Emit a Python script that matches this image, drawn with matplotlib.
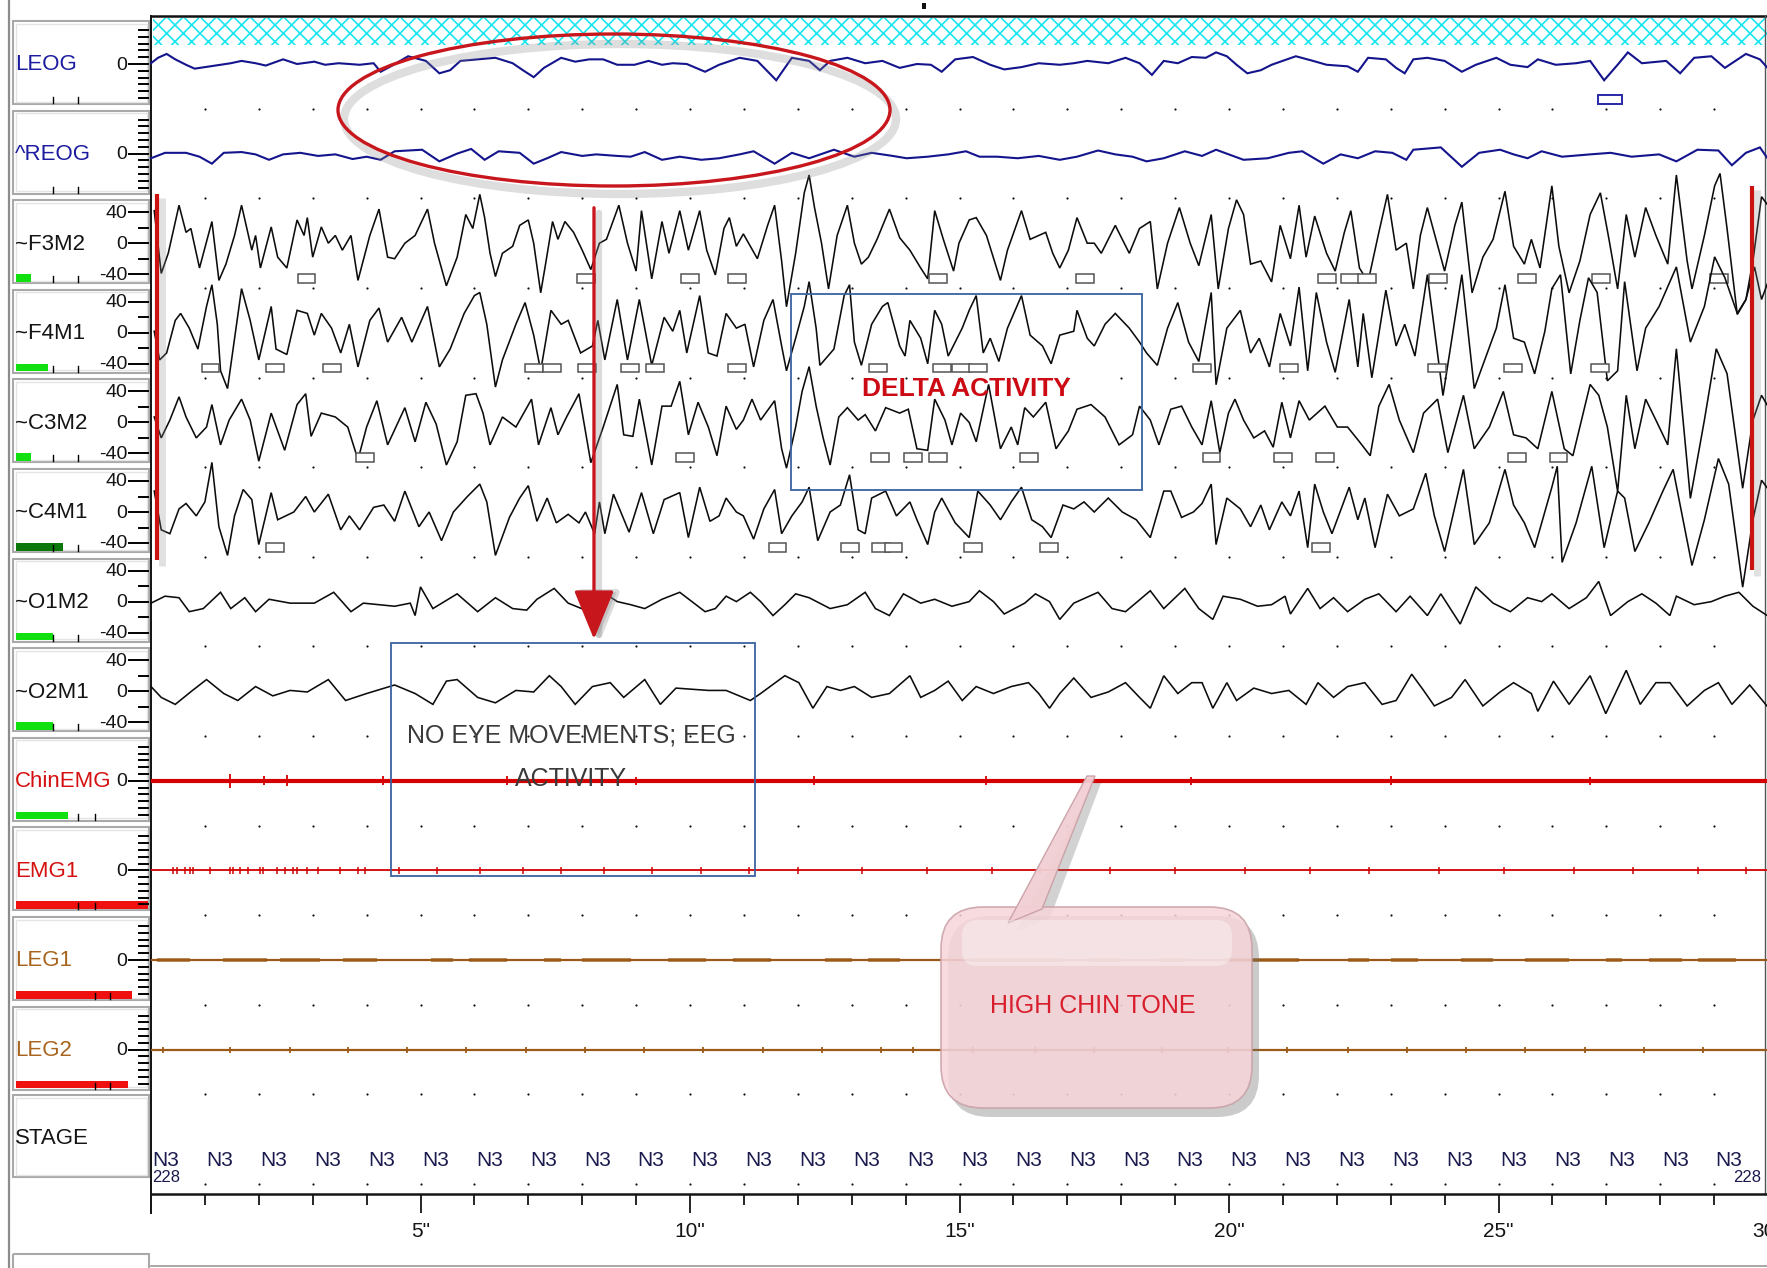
import matplotlib
matplotlib.use("Agg")
import matplotlib.pyplot as plt
from matplotlib import font_manager as fm
from matplotlib.patches import Rectangle, Ellipse, FancyBboxPatch, Polygon, FancyArrowPatch

# ---------------------------------------------------------------------------
# Signals: (time in s, amplitude in uV) turning points of each derivation
# ---------------------------------------------------------------------------
LEOG = [(0.00, 1), (0.13, 8), (0.29, 13), (0.45, 6), (0.65, -1), (0.81, -6), (1.10, -3), (1.48, 1),
        (1.68, 4), (1.94, 1), (2.13, -2), (2.45, 6), (2.71, 0), (3.03, 3), (3.23, -1), (3.48, 1),
        (3.87, -1), (4.13, 1), (4.26, -10), (4.45, -3), (4.77, 10), (5.10, 4), (5.35, -12), (5.55, -8),
        (5.74, 4), (6.06, 6), (6.39, 8), (6.71, 1), (6.90, -8), (7.10, -17), (7.29, -5), (7.61, 8),
        (7.87, 3), (8.13, 6), (8.39, 6), (8.65, -1), (8.97, -1), (9.23, 4), (9.48, -1), (9.68, 1),
        (9.94, 0), (10.28, -10), (10.54, -1), (10.92, 8), (11.25, 4), (11.60, -21), (11.89, 8),
        (12.21, 4), (12.41, -8), (12.60, 4), (12.92, 8), (13.25, 1), (13.57, 4), (13.89, -5),
        (14.21, 0), (14.47, -1), (14.67, -10), (14.92, 6), (15.25, 9), (15.57, -1), (15.83, -7),
        (16.15, -4), (16.47, 1), (16.86, -1), (17.12, 1), (17.37, 4), (17.76, 1), (18.08, 8),
        (18.34, 1), (18.57, -14), (18.79, 4), (19.05, 1), (19.31, 9), (19.57, 8), (19.76, 15),
        (19.96, 10), (20.14, -1), (20.34, -12), (20.59, -8), (20.79, -1), (21.24, 10), (21.56, 4),
        (21.81, -1), (22.20, -3), (22.39, -10), (22.58, 8), (22.91, 6), (23.10, -5), (23.26, -12),
        (23.42, 6), (23.68, 8), (24.00, 4), (24.32, -10), (24.58, -1), (24.96, 8), (25.22, -1),
        (25.54, -4), (25.73, 6), (26.06, -1), (26.44, 1), (26.70, 4), (26.96, -21), (27.21, -1),
        (27.40, 15), (27.66, 1), (28.11, 4), (28.37, -12), (28.63, 8), (28.95, 10), (29.20, -5),
        (29.59, 13), (29.85, 6), (30.03, -8)]

REOG = [(0.00, -6), (0.26, 1), (0.65, 1), (0.90, -4), (1.13, -13), (1.35, 1), (1.68, 2), (1.94, -1),
        (2.19, -8), (2.45, -1), (2.77, 1), (3.10, -3), (3.42, -1), (3.74, -7), (4.00, -4), (4.26, -8),
        (4.52, 3), (5.03, 5), (5.35, -10), (5.68, 0), (5.94, 6), (6.19, -8), (6.45, 3), (6.84, 1),
        (7.10, -13), (7.35, -6), (7.61, 2), (8.00, -3), (8.26, -1), (8.65, -3), (8.90, -4), (9.16, 2),
        (9.48, -8), (9.81, -4), (10.21, -8), (10.54, -6), (10.92, -1), (11.18, 3), (11.57, -13),
        (11.89, 1), (12.21, -6), (12.67, 5), (13.05, -4), (13.37, 1), (13.76, -3), (14.02, -6),
        (14.41, -4), (14.79, -1), (15.12, 3), (15.37, -4), (15.70, -4), (16.08, -6), (16.47, -3),
        (16.86, -8), (17.18, -4), (17.57, 4), (17.89, -1), (18.21, -4), (18.47, -10), (18.79, -6),
        (19.18, 3), (19.50, -3), (19.76, 5), (20.27, -8), (20.72, -6), (21.11, 1), (21.36, 3),
        (21.75, -13), (22.07, -1), (22.39, -6), (22.71, 3), (23.03, 1), (23.29, -8), (23.42, 5),
        (23.93, 8), (24.32, -17), (24.64, 1), (25.03, 5), (25.28, -1), (25.54, -6), (25.80, 3),
        (26.18, -4), (26.70, -1), (27.08, 1), (27.47, -4), (27.98, -1), (28.30, -10), (28.69, 5),
        (29.08, 4), (29.33, -15), (29.59, 1), (29.85, 8), (30.03, -10)]

F3M2 = [(0.06, 42), (0.19, -39), (0.32, -13), (0.52, 49), (0.65, 14), (0.74, 19), (0.90, -32),
        (1.13, 28), (1.26, -48), (1.39, -27), (1.55, 10), (1.68, 49), (1.87, -9), (1.94, 10),
        (2.03, -32), (2.23, 21), (2.35, -18), (2.52, -32), (2.71, 30), (2.84, 10), (2.90, 33),
        (3.00, -18), (3.16, 21), (3.29, 0), (3.42, 10), (3.55, -9), (3.71, 10), (3.84, -48),
        (4.06, 10), (4.23, 44), (4.39, -18), (4.52, -20), (4.71, 0), (4.90, 10), (5.13, 44),
        (5.26, 0), (5.48, -55), (5.68, -18), (5.84, 37), (5.97, 19), (6.10, 63), (6.19, 33),
        (6.29, -13), (6.39, -43), (6.52, -13), (6.71, -4), (6.84, 23), (7.00, 30), (7.10, 0),
        (7.23, -64), (7.32, -27), (7.45, 28), (7.55, 5), (7.68, 28), (7.84, 14), (8.00, -9),
        (8.16, -34), (8.32, 0), (8.45, 5), (8.68, 49), (8.84, 0), (9.00, -36), (9.10, 42),
        (9.29, -46), (9.48, 28), (9.61, -13), (9.81, 42), (9.97, -9),
        (10.18, 42), (10.31, -9), (10.47, -41), (10.63, 19), (10.73, 33), (10.86, -4), (10.99, 12),
        (11.25, -20), (11.44, 23), (11.57, 49), (11.70, -23), (11.79, -82), (11.96, -13),
        (12.12, 65), (12.21, 88), (12.31, 46), (12.44, 0), (12.57, -59), (12.73, 10), (12.92, 49),
        (13.05, 0), (13.18, -27), (13.31, -18), (13.47, 5), (13.70, 44), (13.89, 7), (14.08, -9),
        (14.28, -32), (14.41, -46), (14.54, 42), (14.70, 5), (14.89, -36), (14.99, 0), (15.18, 30),
        (15.31, 33), (15.50, 10), (15.76, -48), (15.89, -9), (16.15, 42), (16.31, 5), (16.47, 10),
        (16.60, 14), (16.73, -13), (16.86, -32), (17.02, -9), (17.18, 33), (17.37, 0), (17.50, 0),
        (17.63, -13), (17.89, 23), (18.15, -13), (18.34, 19), (18.54, 28), (18.67, -59), (18.86, 0),
        (19.08, 46), (19.28, 0), (19.44, -29), (19.67, 37), (19.80, -59), (19.99, 19),
        (20.14, 56), (20.27, 37), (20.40, -27), (20.59, -23), (20.79, -50), (20.95, 23),
        (21.14, -20), (21.30, 49), (21.43, -18), (21.59, 35), (21.81, -13), (21.97, -36),
        (22.14, 14), (22.26, 42), (22.42, -32), (22.58, -50), (22.78, 14), (22.94, 63), (23.10, -9),
        (23.29, 0), (23.42, -59), (23.55, 10), (23.68, 46), (23.84, 5), (24.00, -36), (24.19, 23),
        (24.32, 53), (24.51, -64), (24.71, -18), (24.90, 5), (25.12, 67), (25.28, -4), (25.48, -27),
        (25.61, 5), (25.77, -32), (25.99, 74), (26.12, -4), (26.31, -64), (26.51, -23), (26.70, 37),
        (26.89, 65), (27.05, 5), (27.21, -59), (27.37, 37), (27.53, -18), (27.73, 46), (27.92, 10),
        (28.14, -27), (28.30, 88), (28.50, -23), (28.59, -59), (28.82, 10), (29.01, 74),
        (29.11, 90), (29.24, 19), (29.43, -92), (29.59, -73), (29.72, -23), (29.88, 60), (30.03, 46)]

F4M1 = [(0.06, 2), (0.16, -35), (0.29, -26), (0.45, 16), (0.55, 25), (0.71, 6), (0.87, -21),
        (1.03, 34), (1.13, 62), (1.23, 11), (1.29, -49), (1.42, -72), (1.55, -7), (1.68, 57),
        (1.84, 16), (2.00, -35), (2.23, 34), (2.32, -21), (2.52, -28), (2.71, 29), (2.90, 25),
        (3.03, -3), (3.16, 25), (3.35, 6), (3.52, -26), (3.68, 11), (3.84, -44), (4.06, 16),
        (4.23, 32), (4.39, -12), (4.65, 20), (4.84, -12), (5.13, 34), (5.35, -44), (5.55, -21),
        (5.81, 25), (6.00, 48), (6.10, 52), (6.23, 11), (6.39, -70), (6.52, -35), (6.77, 11),
        (6.94, 39), (7.10, -3), (7.23, -49), (7.42, 29), (7.61, 11), (7.74, 16), (7.97, -26),
        (8.19, -17), (8.29, 16), (8.42, -35), (8.65, 43), (8.84, -35), (9.06, 43), (9.29, -42),
        (9.52, 20), (9.68, 2), (9.81, 29), (9.94, -26),
        (10.18, 48), (10.34, -26), (10.50, -30), (10.67, 25), (10.86, 6), (11.02, 11), (11.18, -44),
        (11.37, 16), (11.54, 43), (11.70, -17), (11.79, -49), (11.96, -7), (12.12, 34), (12.21, 66),
        (12.34, 6), (12.41, -42), (12.67, -21), (12.86, 48), (12.96, 62), (13.05, -12), (13.18, -42),
        (13.37, 11), (13.57, 34), (13.67, 39), (13.89, -17), (13.99, -30), (14.08, 16), (14.28, -7),
        (14.41, -40), (14.54, 29), (14.67, 11), (14.79, -30), (15.05, 6), (15.18, 29), (15.31, 48),
        (15.44, -26), (15.57, -7), (15.73, -37), (15.89, 6), (16.15, 48), (16.31, -3), (16.54, -17),
        (16.70, -40), (16.86, -3), (17.12, 2), (17.18, 29), (17.37, -7), (17.50, -17), (17.70, 11),
        (17.89, 25), (18.15, 6), (18.34, -12), (18.47, -26), (18.67, -42), (18.86, 6), (19.05, 39),
        (19.25, -12), (19.44, -37), (19.67, 52), (19.76, -67), (19.96, 6),
        (20.21, 29), (20.40, -26), (20.56, -7), (20.75, -44), (20.95, 25), (21.14, -17), (21.30, 59),
        (21.46, -49), (21.62, 52), (21.81, -12), (21.97, -51), (22.23, 43), (22.39, -44), (22.49, 25),
        (22.65, -58), (22.91, 55), (23.10, -17), (23.26, 11), (23.45, -30), (23.68, 75), (23.97, -81),
        (24.32, 75), (24.55, -72), (24.77, -30), (24.96, 6), (25.12, 62), (25.28, -7), (25.48, -12),
        (25.67, -53), (25.86, 2), (25.99, 57), (26.15, 75), (26.34, -53), (26.51, 16), (26.67, 71),
        (26.83, 52), (27.02, -62), (27.21, -49), (27.34, 66), (27.57, -49), (27.73, 6), (27.98, 34),
        (28.30, 85), (28.56, -12), (28.82, 34), (29.01, 98), (29.20, 71), (29.43, 25), (29.59, 43),
        (29.75, 85), (29.88, 43), (30.03, 71)]

C3M2 = [(0.06, 7), (0.19, -20), (0.35, 3), (0.52, 33), (0.65, 7), (0.84, -20), (1.03, -6),
        (1.13, 23), (1.29, -29), (1.45, 3), (1.68, 30), (1.84, 3), (2.00, -50), (2.23, 12),
        (2.48, -36), (2.71, 23), (2.87, 37), (2.97, -18), (3.16, 12), (3.42, 7), (3.65, -6),
        (3.84, -48), (4.00, -6), (4.19, 28), (4.39, -29), (4.71, 19), (4.90, -25), (5.10, 26),
        (5.29, -2), (5.48, -55), (5.68, -25), (5.84, 35), (6.03, 37), (6.16, 12), (6.29, -29),
        (6.52, 7), (6.77, -6), (7.06, 30), (7.19, -29), (7.42, 19), (7.55, -16), (7.71, 7),
        (7.94, 37), (8.16, -52), (8.39, -6), (8.65, 49), (8.77, -16), (8.94, -18), (9.06, 30),
        (9.29, -55), (9.48, 21), (9.65, 21), (9.81, 53), (9.97, -16),
        (10.15, 26), (10.34, -6), (10.50, -43), (10.67, 21), (10.86, -9), (10.99, 3), (11.15, 30),
        (11.31, 3), (11.57, 28), (11.70, -34), (11.79, -59), (11.96, -6), (12.08, 40), (12.21, 72),
        (12.34, 21), (12.47, -20), (12.60, -55), (12.76, 7), (12.92, 19), (13.12, 3), (13.25, 10),
        (13.44, -11), (13.63, 19), (13.89, 12), (14.05, 17), (14.21, -34), (14.41, -36), (14.54, 30),
        (14.73, 3), (14.86, -29), (15.02, 12), (15.18, 0), (15.31, -25), (15.54, 49), (15.76, -34),
        (15.96, -6), (16.08, -29), (16.21, 19), (16.37, 7), (16.60, 26), (16.79, -34), (17.02, -11),
        (17.18, 17), (17.44, 23), (17.70, 7), (17.96, -29), (18.21, -16), (18.34, 21), (18.54, 3),
        (18.70, -29), (18.92, 17), (19.12, 21), (19.31, -6), (19.50, -29), (19.67, 28), (19.83, -39),
        (19.99, 12),
        (20.11, 30), (20.27, 3), (20.46, -20), (20.66, -11), (20.82, -32), (20.98, 26), (21.14, -20),
        (21.30, 28), (21.49, 3), (21.78, 21), (22.01, -6), (22.20, -6), (22.42, -25), (22.62, -43),
        (22.78, 21), (22.97, 49), (23.16, 3), (23.42, -39), (23.61, 12), (23.87, 30), (24.06, -39),
        (24.35, 35), (24.55, -34), (24.83, -6), (25.09, 40), (25.28, -16), (25.51, -20), (25.73, -34),
        (25.99, 40), (26.22, -34), (26.38, -43), (26.70, 49), (26.86, 35), (27.02, -6), (27.21, -89),
        (27.37, 35), (27.53, -34), (27.73, 30), (27.92, 3), (28.14, -29), (28.30, 95), (28.56, -98),
        (28.82, 3), (29.04, 95), (29.24, 63), (29.53, -85), (29.72, 3), (29.88, 35), (30.03, 17)]

C4M1 = [(0.06, 27), (0.19, -23), (0.35, -28), (0.52, 4), (0.65, 11), (0.84, -5), (1.00, 13),
        (1.13, 64), (1.26, -19), (1.42, -56), (1.55, -5), (1.71, 29), (1.87, 16), (2.00, -42),
        (2.23, 25), (2.35, -10), (2.65, 0), (2.87, 20), (3.03, 0), (3.29, 23), (3.52, -23),
        (3.68, -5), (3.87, -23), (4.13, 6), (4.32, 9), (4.52, -12), (4.71, 27), (4.97, -19),
        (5.16, 0), (5.39, -37), (5.61, 0), (5.87, 20), (6.10, 36), (6.23, 13), (6.39, -56),
        (6.65, -7), (6.84, 18), (7.00, 34), (7.16, -12), (7.35, 18), (7.52, -14), (7.74, -3),
        (7.94, -14), (8.06, 0), (8.23, -28), (8.32, 13), (8.42, -28), (8.58, 23), (8.87, -26),
        (9.10, 25), (9.32, -28), (9.52, 16), (9.81, 25), (9.97, -33),
        (10.18, 32), (10.37, -12), (10.54, -5), (10.67, 18), (10.86, 0), (10.99, -5), (11.18, -35),
        (11.37, 4), (11.57, 29), (11.70, -28), (11.89, -5), (12.08, 13), (12.21, 32), (12.37, -37),
        (12.60, 0), (12.79, 9), (12.96, 48), (13.12, -23), (13.25, -28), (13.37, 18), (13.63, 27),
        (13.83, -5), (14.08, 13), (14.21, -10), (14.41, -42), (14.54, 0), (14.67, 18), (14.92, -14),
        (15.18, -33), (15.34, 27), (15.57, 9), (15.76, -10), (15.96, 13), (16.15, 32), (16.34, -10),
        (16.54, -19), (16.70, -33), (16.92, 9), (17.12, 4), (17.31, 13), (17.50, 0), (17.76, 18),
        (18.02, 0), (18.28, -10), (18.54, -33), (18.79, 27), (18.92, 27), (19.12, -7), (19.34, 0),
        (19.50, 11), (19.67, 36), (19.76, -42), (19.96, 18),
        (20.21, 4), (20.40, -19), (20.59, 9), (20.75, -23), (20.98, 13), (21.14, -5), (21.30, 27),
        (21.46, -46), (21.59, 36), (21.75, 0), (21.91, -28), (22.23, 32), (22.39, -10), (22.52, 18),
        (22.71, -46), (22.94, 23), (23.16, -5), (23.42, 4), (23.65, 50), (23.81, -5), (24.00, -51),
        (24.35, 55), (24.55, -42), (24.83, -14), (25.12, 55), (25.28, 9), (25.48, -14), (25.67, -46),
        (25.99, 32), (26.09, 59), (26.18, -65), (26.44, -14), (26.73, 59), (26.96, -46), (27.21, 27),
        (27.34, 18), (27.53, -51), (27.79, -14), (28.05, 27), (28.24, 55), (28.59, -69), (28.82, -10),
        (29.08, 69), (29.27, 36), (29.53, -97), (29.72, -10), (29.88, 41), (30.03, 27)]

O1M2 = [(0.00, -2), (0.26, 7), (0.52, 5), (0.71, -13), (0.97, -9), (1.29, 12), (1.48, -9), (1.74, 5),
        (1.94, -13), (2.19, 3), (2.58, -2), (3.03, -2), (3.39, 12), (3.71, -13), (3.94, -2),
        (4.52, -6), (4.81, -2), (4.90, -18), (5.00, 19), (5.23, -9), (5.68, 10), (6.06, -13),
        (6.39, 5), (6.71, -9), (6.97, -11), (7.16, 3), (7.48, 17), (7.74, -2), (8.06, -11),
        (8.39, 12), (8.65, 0), (8.90, -4), (9.16, -9), (9.48, 3), (9.81, 12),
        (10.28, -13), (10.47, -9), (10.67, 7), (10.86, 0), (11.12, 12), (11.31, 0), (11.54, -18),
        (11.76, -4), (11.96, 10), (12.21, 5), (12.60, -9), (12.92, -4), (13.25, 12), (13.44, -9),
        (13.70, -18), (13.96, 10), (14.28, -2), (14.54, 3), (14.86, -6), (15.18, 0), (15.37, 14),
        (15.63, 0), (15.83, -16), (16.21, -2), (16.41, 10), (16.67, 0), (16.86, -23), (17.12, -2),
        (17.57, 12), (17.83, -9), (18.08, -13), (18.54, 14), (18.79, -9), (19.18, 17), (19.44, -9),
        (19.70, -23), (19.89, 7),
        (20.21, 3), (20.53, -6), (20.79, -4), (21.04, 7), (21.14, -16), (21.46, 17), (21.69, -9),
        (21.94, 5), (22.20, -13), (22.52, 3), (22.78, 10), (23.10, -13), (23.36, 7), (23.68, -18),
        (23.93, 10), (24.29, -29), (24.58, 19), (24.90, -2), (25.22, -13), (25.54, 5), (25.80, 0),
        (25.99, 10), (26.31, -9), (26.63, 5), (26.86, 26), (27.08, -18), (27.40, 0), (27.66, 10),
        (27.92, -2), (28.18, -18), (28.30, 7), (28.63, -4), (28.95, 0), (29.20, 7), (29.46, 12),
        (29.72, -6), (30.03, -20)]

O2M1 = [(0.00, 6), (0.19, -8), (0.45, -17), (0.77, 1), (1.03, 15), (1.35, -3), (1.61, -12),
        (1.94, 6), (2.26, -6), (2.58, 1), (2.90, -1), (3.29, 15), (3.61, -12), (4.00, -3),
        (4.52, 8), (4.90, -3), (5.23, -17), (5.48, 13), (5.68, 15), (6.06, -8), (6.39, -15),
        (6.77, 1), (7.10, -1), (7.39, 20), (7.61, 6), (7.87, -17), (8.19, 6), (8.52, 11),
        (8.77, -8), (9.16, 15), (9.45, -17), (9.74, 4),
        (10.34, 1), (10.67, 1), (11.12, -12), (11.31, -3), (11.76, 20), (12.02, 11), (12.28, -22),
        (12.54, 6), (12.79, 1), (13.05, 6), (13.37, -8), (13.70, -3), (14.08, 20), (14.28, -8),
        (14.54, 1), (14.79, 13), (15.05, -12), (15.31, 6), (15.63, -3), (15.96, 6), (16.28, 11),
        (16.47, -3), (16.67, -22), (16.86, -3), (17.12, 17), (17.44, -8), (17.76, -1), (18.08, 11),
        (18.34, -8), (18.54, -22), (18.79, 20), (19.05, -3), (19.31, 11), (19.50, 11), (19.70, -22),
        (19.96, 11),
        (20.14, -12), (20.46, 4), (20.79, -3), (21.11, 1), (21.43, -17), (21.65, 11), (21.94, -8),
        (22.20, 6), (22.52, 11), (22.84, -17), (23.10, -12), (23.39, 22), (23.61, 1), (23.81, -19),
        (24.13, -8), (24.38, 15), (24.71, -19), (25.03, -1), (25.28, 11), (25.61, -3), (25.73, -26),
        (26.02, 13), (26.31, -17), (26.70, 20), (26.99, -29), (27.37, 27), (27.63, -17), (27.92, 11),
        (28.18, 11), (28.50, -19), (28.82, 1), (29.08, 11), (29.33, -17), (29.66, 8), (29.98, -19)]

# EMG / leg channels: flat baseline with short deflections (time s, amplitude uV)
CHIN_EMG_SPIKES = [(1.47, 9), (2.10, 6), (2.52, 7), (4.30, 6), (6.60, 6), (9.00, 5), (12.30, 6),
                   (15.50, 6), (19.30, 5), (23.00, 6), (26.70, 5)]
EMG1_SPIKES = [(0.41, 5), (0.48, 4), (0.63, 5), (0.72, 4), (0.78, 5), (1.10, 4), (1.47, 5),
               (1.52, 4), (1.65, 5), (1.80, 4), (2.02, 5), (2.08, 4), (2.34, 5), (2.49, 4),
               (2.63, 5), (2.71, 4), (2.89, 4), (3.10, 5), (3.51, 4), (3.84, 4), (3.97, 5),
               (4.60, 4), (5.30, 4), (6.10, 5), (6.90, 4), (7.60, 4), (8.40, 5), (9.30, 4),
               (10.20, 4), (11.10, 5), (12.00, 4), (13.20, 4), (14.40, 4), (15.60, 5), (16.50, 4),
               (17.80, 4), (19.00, 4), (20.30, 5), (21.50, 4), (22.60, 4), (23.90, 5), (25.10, 4),
               (26.40, 4), (27.50, 5), (28.70, 4), (29.60, 4)]
LEG1_BURSTS = [(0.11, 0.72), (1.34, 2.15), (2.39, 3.14), (3.56, 4.19), (5.20, 5.60), (5.90, 6.60),
               (7.30, 7.60), (8.00, 8.90), (9.60, 10.30), (10.80, 11.50), (12.50, 13.00),
               (13.30, 13.90), (15.20, 16.90), (17.40, 18.00), (18.70, 19.20), (19.90, 21.30),
               (22.20, 22.60), (23.00, 23.50), (24.30, 24.90), (25.50, 26.30), (27.00, 27.30),
               (27.80, 28.40), (28.70, 29.40)]
LEG2_BLIPS = [0.22, 1.47, 2.58, 3.65, 4.75, 5.85, 6.95, 8.05, 9.15, 10.25, 11.35, 12.45, 13.55,
              14.14, 15.25, 16.40, 17.50, 18.76, 19.98, 21.08, 22.20, 23.30, 24.40, 25.50, 26.60,
              27.70, 28.80]

# scoring marks under the EEG traces (channel, start time s)
EVENT_MARKS = {
    "~F3M2": [2.72, 7.90, 9.83, 10.71, 14.43, 17.17, 21.66, 22.08, 22.40, 23.71, 25.36, 26.74, 28.92],
    "~F4M1": [0.94, 2.13, 3.20, 6.94, 7.28, 7.92, 8.72, 9.18, 10.71, 13.32, 14.51, 14.87, 15.18,
              19.34, 20.95, 23.69, 25.11, 26.72],
    "~C3M2": [3.81, 9.74, 13.36, 13.97, 14.43, 16.12, 19.51, 20.83, 21.62, 25.18, 25.95],
    "~C4M1": [2.13, 11.46, 12.80, 13.38, 13.61, 15.08, 16.50, 21.54],
}

CHANNELS = ["LEOG", "^REOG", "~F3M2", "~F4M1", "~C3M2", "~C4M1", "~O1M2", "~O2M1",
            "ChinEMG", "EMG1", "LEG1", "LEG2"]
SIGNALS = {"LEOG": LEOG, "^REOG": REOG, "~F3M2": F3M2, "~F4M1": F4M1, "~C3M2": C3M2,
           "~C4M1": C4M1, "~O1M2": O1M2, "~O2M1": O2M1}
STAGES = ["N3"] * 30
EPOCH = "228"
TIME_TICKS = [5, 10, 15, 20, 25, 30]

# ---------------------------------------------------------------------------
# Geometry of the montage page (pixels)
# ---------------------------------------------------------------------------
W, H = 1767, 1268
X0 = 151.0          # x of t = 0
PX_S = 53.9         # pixels per second
T_MAX = 30.0
ROW0 = 64.0         # baseline of first channel
ROW = 89.6          # channel spacing
GAIN = 0.775        # pixels per uV

names = {f.name for f in fm.fontManager.ttflist}
NARROW = "Liberation Sans Narrow" if "Liberation Sans Narrow" in names else "Liberation Sans"
plt.rcParams["font.family"] = [NARROW, "DejaVu Sans"]
plt.rcParams["hatch.linewidth"] = 1.2

fig = plt.figure(figsize=(W / 100, H / 100), dpi=100, facecolor="white")


def pixel_axes(z):
    ax = fig.add_axes([0, 0, 1, 1])
    ax.set_xlim(0, W)
    ax.set_ylim(H, 0)
    ax.axis("off")
    ax.patch.set_alpha(0)
    ax.set_zorder(z)
    return ax


bg = pixel_axes(0)
fg = pixel_axes(6)

# time axes spanning full height (x in seconds, y in pixels)
ax_t = fig.add_axes([X0 / W, 0, T_MAX * PX_S / W, 1])
ax_t.set_xlim(0, T_MAX)
ax_t.set_ylim(H, 0)
ax_t.axis("off")
ax_t.patch.set_alpha(0)
ax_t.set_zorder(1)

NAME_COL = {"LEOG": "#1c1ca0", "^REOG": "#1c1ca0", "ChinEMG": "#d41010", "EMG1": "#d41010",
            "LEG1": "#a8641e", "LEG2": "#a8641e"}
BAR = {"~F3M2": (15, "#10e010"), "~F4M1": (32, "#10e010"), "~C3M2": (15, "#10e010"),
       "~C4M1": (47, "#0a780a"), "~O1M2": (37, "#10e010"), "~O2M1": (37, "#10e010"),
       "ChinEMG": (52, "#10e010"), "EMG1": (132, "#f01010"), "LEG1": (116, "#f01010"),
       "LEG2": (112, "#f01010")}
EEG = {"~F3M2", "~F4M1", "~C3M2", "~C4M1", "~O1M2", "~O2M1"}

# ---------------- left label panel ----------------
bg.plot([9, 9], [0, H], color="#8c8c8c", lw=1.6)
for i, ch in enumerate(CHANNELS):
    zy = ROW0 + i * ROW
    bg.add_patch(Rectangle((13, zy - 43), 136, 83, fill=False, ec="#a9a9a9", lw=1.5))
    bg.add_patch(Rectangle((15.5, zy - 40.5), 131, 78, fill=False, ec="#e4e4e4", lw=1.0))
    bg.text(15, zy + 1, ch, ha="left", va="center", fontsize=16,
            color=NAME_COL.get(ch, "#141414"))
    bg.plot([129, 148], [zy, zy], color="k", lw=1.4)
    bg.text(127, zy + 1, "0", ha="right", va="center", fontsize=14, color="#141414")
    if ch in EEG:
        for s, lab in ((-1, "40"), (1, "-40")):
            bg.plot([129, 148], [zy + s * 31, zy + s * 31], color="k", lw=1.4)
            bg.text(127, zy + s * 31 + 1, lab, ha="right", va="center", fontsize=14, color="#141414")
            bg.plot([139, 148], [zy + s * 15.5] * 2, color="k", lw=1.4)
    else:
        for k in (-5, -4, -3, -2, -1, 1, 2, 3, 4, 5):
            bg.plot([139, 148], [zy + k * 6.8] * 2, color="k", lw=1.4)
    if ch in BAR:
        w, c = BAR[ch]
        bg.add_patch(Rectangle((16, zy + 31), w, 7.5, color=c, lw=0))
    ticks = (53, 78) if i < 8 else ((78, 95) if i < 10 else (95, 110))
    for tx in ticks:
        bg.plot([tx, tx], [zy + 33, zy + 39], color="k", lw=1.0)

bg.add_patch(Rectangle((13, 1095), 136, 82, fill=False, ec="#a9a9a9", lw=1.5))
bg.add_patch(Rectangle((15.5, 1097.5), 131, 77, fill=False, ec="#e4e4e4", lw=1.0))
bg.text(15, 1139, "STAGE", ha="left", va="center", fontsize=16, color="#141414")
bg.add_patch(Rectangle((13, 1254), 136, 16, fill=False, ec="#a9a9a9", lw=1.5))

# ---------------- trace frame ----------------
bg.plot([X0, W], [16, 16], color="#111111", lw=1.8)
bg.plot([X0, X0], [16, 1213], color="#111111", lw=1.4)
bg.plot([1765, 1765], [16, 1194], color="#555555", lw=1.0)
bg.plot([X0, W], [1266, 1266], color="#9a9a9a", lw=1.2)
bg.add_patch(Rectangle((922, 3), 4, 6, color="#111111", lw=0))
bg.add_patch(Rectangle((153, 18), W - 153, 27, fill=False, hatch="xx", ec="#19e6f0", lw=0))

# one-second grid dots between channels
sec = list(range(1, 30))
for r in range(13):
    yd = ROW0 + (r + 0.5) * ROW
    ax_t.scatter(sec, [yd] * len(sec), s=2.5, color="#111111", lw=0)

# sleep stage row
for t, st in enumerate(STAGES):
    ax_t.text(t + 0.03, 1160, st, ha="left", va="center", fontsize=15, color="#1a1a4e")
ax_t.text(0.03, 1177, EPOCH, ha="left", va="center", fontsize=12, color="#1a1a4e")
ax_t.text(29.35, 1177, EPOCH, ha="left", va="center", fontsize=12, color="#1a1a4e")

# ---------------- channel traces ----------------
chan_ax = {}
for i, ch in enumerate(CHANNELS):
    zy = ROW0 + i * ROW
    ax = fig.add_axes([X0 / W, (H - zy - ROW / 2) / H, T_MAX * PX_S / W, ROW / H])
    half = ROW / 2 / GAIN
    ax.set_xlim(0, T_MAX)
    ax.set_ylim(-half, half)
    ax.axis("off")
    ax.patch.set_alpha(0)
    ax.set_zorder(2)
    chan_ax[ch] = ax
    if ch in SIGNALS:
        t, v = zip(*SIGNALS[ch])
        col = "#14148c" if "EOG" in ch else "#0c0c0c"
        ax.plot(t, v, color=col, lw=1.5 if "EOG" in ch else 1.15, clip_on=False,
                solid_joinstyle="miter")

red_emg = "#d40000"
leg_col = "#9c5a18"
ax = chan_ax["ChinEMG"]
ax.plot([0, T_MAX], [0, 0], color=red_emg, lw=3.0, solid_capstyle="butt")
st, sa = zip(*CHIN_EMG_SPIKES)
ax.vlines(st, [-a for a in sa], sa, color=red_emg, lw=1.3)
ax = chan_ax["EMG1"]
ax.plot([0, T_MAX], [0, 0], color=red_emg, lw=1.3)
st, sa = zip(*EMG1_SPIKES)
ax.vlines(st, [-a for a in sa], sa, color=red_emg, lw=1.1)
ax = chan_ax["LEG1"]
ax.plot([0, T_MAX], [0, 0], color=leg_col, lw=1.6)
for s0, s1 in LEG1_BURSTS:
    ax.plot([s0, s1], [0, 0], color=leg_col, lw=2.6, solid_capstyle="butt", alpha=0.85)
ax = chan_ax["LEG2"]
ax.plot([0, T_MAX], [0, 0], color=leg_col, lw=1.6)
ax.vlines(LEG2_BLIPS, -4, 4, color=leg_col, lw=1.3)

for ch, marks in EVENT_MARKS.items():
    ax = chan_ax[ch]
    for t0 in marks:
        ax.add_patch(Rectangle((t0, -51), 0.33, 11, fc="white", ec="#555555", lw=1.1,
                               clip_on=False, zorder=3))
chan_ax["LEOG"].add_patch(Rectangle((26.85, -51), 0.45, 11, fc="white", ec="#2828a8", lw=1.4,
                                    clip_on=False, zorder=3))

# ---------------- time axis ----------------
ax_x = fig.add_axes([X0 / W, (H - 1194) / H, T_MAX * PX_S / W, 0.0001])
ax_x.set_zorder(3)
ax_x.patch.set_alpha(0)
ax_x.set_xlim(0, T_MAX)
for s in ("top", "left", "right"):
    ax_x.spines[s].set_visible(False)
ax_x.spines["bottom"].set_linewidth(1.8)
ax_x.spines["bottom"].set_color("#151515")
ax_x.set_yticks([])
ax_x.set_xticks(TIME_TICKS)
ax_x.set_xticklabels([f'{v}"' for v in TIME_TICKS], fontsize=15, color="#141414")
ax_x.set_xticks(range(1, 30), minor=True)
ax_x.tick_params(axis="x", which="major", length=14, width=1.3, pad=6, color="#151515")
ax_x.tick_params(axis="x", which="minor", length=8, width=1.3, color="#151515")

# ---------------- annotations ----------------
# ellipse around the eye channels
fg.add_patch(Ellipse((620, 119), 552, 150, fill=False, ec="#8a8a8a", lw=6, alpha=0.28))
fg.add_patch(Ellipse((614, 110), 552, 152, fill=False, ec="#c8161d", lw=2.4))

# arrow down to the occipital box
fg.add_patch(FancyArrowPatch((599, 210), (599, 646), arrowstyle="-|>,head_length=1.1,head_width=0.45",
                             mutation_scale=28, color="#8a8a8a", lw=4.5, alpha=0.3))
fg.add_patch(FancyArrowPatch((594, 205), (594, 642), arrowstyle="-|>,head_length=1.1,head_width=0.45",
                             mutation_scale=28, color="#c8161d", lw=2.4))

# red bars delimiting the frontal/central block
for xb, y0, y1 in ((157, 194, 560), (1752, 186, 570)):
    fg.plot([xb + 5, xb + 5], [y0 + 4, y1 + 6], color="#888888", lw=5, alpha=0.25,
            solid_capstyle="butt")
    fg.plot([xb, xb], [y0, y1], color="#cc1111", lw=3.0, solid_capstyle="butt")

# delta activity box
fg.add_patch(Rectangle((791, 294), 351, 196, fill=False, ec="#3a63a0", lw=1.3))
fg.text(966, 389, "DELTA ACTIVITY", ha="center", va="center", fontsize=19,
        fontweight="bold", color="#cc0a14")

# no eye movement box
fg.add_patch(Rectangle((391, 643), 364, 233, fill=False, ec="#3a63a0", lw=1.3))
fg.text(571, 736, "NO EYE MOVEMENTS; EEG", ha="center", va="center", fontsize=18,
        color="#3a3a3a")
fg.text(571, 779, "ACTIVITY", ha="center", va="center", fontsize=18, color="#3a3a3a")

# callout for the chin channel
fg.add_patch(FancyBboxPatch((962, 930), 283, 173, boxstyle="round,pad=14,rounding_size=42",
                            fc="#6c6c6c", ec="none", alpha=0.35))
fg.add_patch(Polygon([(1016, 932), (1050, 918), (1101, 783), (1093, 783)], closed=True,
                     fc="#6c6c6c", ec="none", alpha=0.3))
fg.add_patch(FancyBboxPatch((955, 921), 283, 173, boxstyle="round,pad=14,rounding_size=42",
                            fc="#f7d5da", ec="#c9a0a6", lw=1.2, alpha=0.86))
fg.add_patch(Polygon([(1008, 923), (1042, 909), (1095, 776), (1087, 776)], closed=True,
                     fc="#f2cfd4", ec="#c9a0a6", lw=1.0, alpha=0.95))
fg.add_patch(FancyBboxPatch((968, 926), 258, 34, boxstyle="round,pad=6,rounding_size=16",
                            fc="white", ec="none", alpha=0.35))
fg.text(1093, 1006, "HIGH CHIN TONE", ha="center", va="center", fontsize=18, color="#d81e2c")

fig.savefig("out.png", dpi=100, facecolor="white")
